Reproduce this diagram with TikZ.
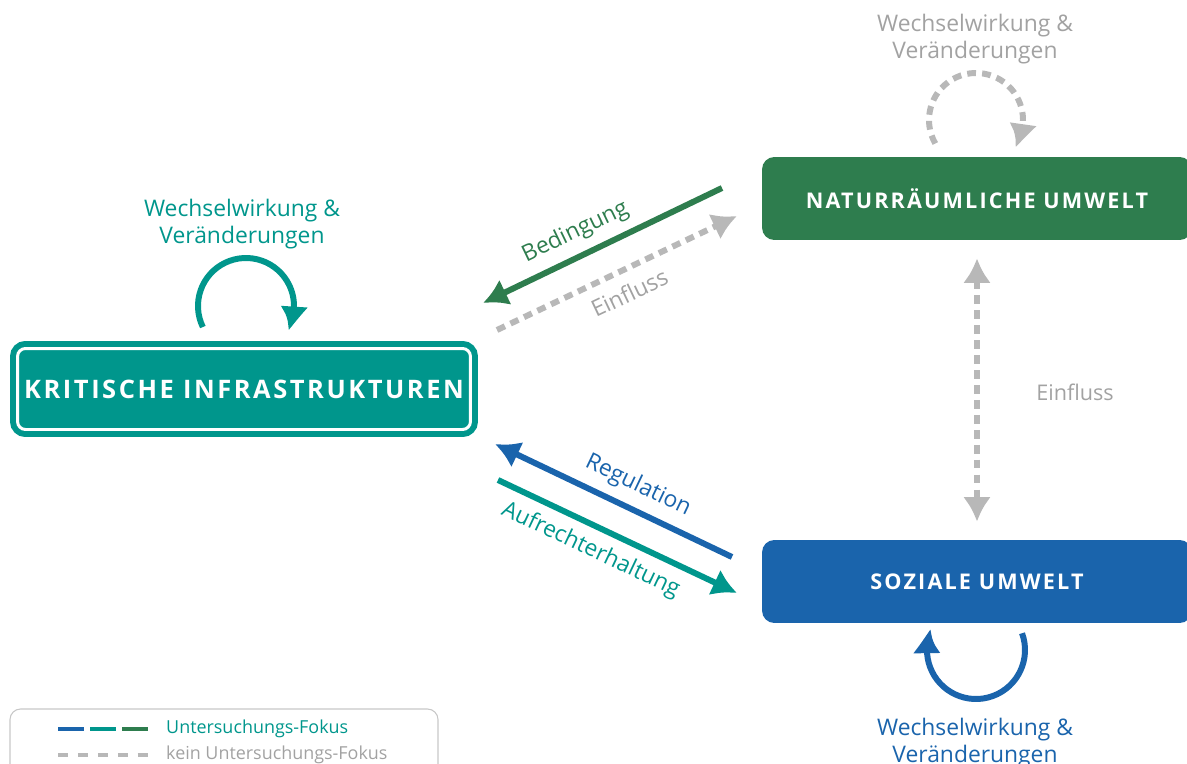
\documentclass[tikz,border=0pt]{standalone}
\usepackage{fontspec}
\setmainfont{Open Sans}
\usetikzlibrary{arrows.meta,bending}

\definecolor{kritis}{RGB}{0,150,140}
\definecolor{natur}{RGB}{46,125,78}
\definecolor{sozial}{RGB}{26,100,172}
\definecolor{keinfokus}{RGB}{184,184,184}
\definecolor{keintext}{RGB}{162,162,162}

\begin{document}
\begin{tikzpicture}[x=0.02cm, y=-0.02cm, >={Latex[length=14pt,width=16pt,bend]},
	every node/.style={font=\fontsize{13}{15.3}\selectfont},
	boxtext/.style={font=\fontsize{12.3}{14}\selectfont\bfseries\addfontfeature{LetterSpace=10}, text=white},
	fokus/.style={line width=3.4pt},
	kein/.style={line width=3.4pt, keinfokus, dash pattern=on 5pt off 3.5pt}]
	\useasboundingbox (0,0) rectangle (1187,764);
	\node[boxtext, font=\fontsize{14.5}{16}\selectfont\bfseries\addfontfeature{LetterSpace=10}, fill=kritis, draw=kritis, double=white, line width=3.4pt, double distance=1.7pt, rounded corners=4.5pt, minimum width=9.06cm, minimum height=1.62cm] (kritis) at (244,389) {KRITISCHE INFRASTRUKTUREN};
	\node[boxtext, fill=natur, rounded corners=7pt, minimum width=8.6cm, minimum height=1.66cm] (natur) at (977,198.5) {NATURRÄUMLICHE UMWELT};
	\node[boxtext, fill=sozial, rounded corners=7pt, minimum width=8.6cm, minimum height=1.66cm] (sozial) at (977,581.5) {SOZIALE UMWELT};

	\draw[fokus, kritis, ->] (246,306) ++(154:48) arc[start angle=154, end angle=390, radius=48];
	\node[kritis, align=center] (kritis-wv) at (242,224) {Wechselwirkung \&\\Veränderungen};
	\draw[kein, ->] (976,120) ++(150:47) arc[start angle=150, end angle=395, radius=47];
	\node[keintext, align=center] (natur-wv) at (975,39) {Wechselwirkung \&\\Veränderungen};
	\draw[fokus, sozial, ->] (976,650) ++(-20:49) arc[start angle=-20, end angle=205, radius=49];
	\node[sozial, align=center] (sozial-wv) at (975,743) {Wechselwirkung \&\\Veränderungen};

	\coordinate (bed-a) at (722,188);
	\coordinate (bed-b) at (483,303);
	\coordinate (ein-a) at (497,330);
	\coordinate (ein-b) at (737,216);
	\coordinate (reg-a) at (732,557);
	\coordinate (reg-b) at (495,444);
	\coordinate (auf-a) at (498,480);
	\coordinate (auf-b) at (737,593);
	\draw[fokus, natur, ->] (bed-a) -- (bed-b) node[pos=0.57, sloped, above=2pt] (bed) {Bedingung};
	\draw[kein, ->] (ein-a) -- (ein-b) node[pos=0.51, sloped, below=3pt, keintext] (ein) {Einfluss};
	\draw[fokus, sozial, ->] (reg-a) -- (reg-b) node[pos=0.44, sloped, above=2pt] (reg) {Regulation};
	\draw[fokus, kritis, ->] (auf-a) -- (auf-b) node[pos=0.43, sloped, below=2pt] (auf) {Aufrechterhaltung};
	\draw[kein, <->, shorten <=0.36cm, shorten >=0.36cm] (natur.south) -- (sozial.north);
	\node[keintext, font=\fontsize{12.3}{15}\selectfont] (ein-nat) at (1075,392) {Einfluss};

	\draw[line width=0.6pt, black!22, rounded corners=6pt] (10,709) rectangle (438,800);
	\draw[line width=2.8pt, sozial] (58,729) -- (84,729);
	\draw[line width=2.8pt, kritis] (90,729) -- (116,729);
	\draw[line width=2.8pt, natur] (122,729) -- (148,729);
	\draw[line width=2.8pt, keinfokus, dash pattern=on 5.67pt off 5.67pt] (58,755) -- (150,755);
	\node[kritis, anchor=west, font=\fontsize{10.2}{12}\selectfont] (leg-fokus) at (160,729) {Untersuchungs-Fokus};
	\node[keintext, anchor=west, font=\fontsize{10.2}{12}\selectfont] (leg-kein) at (160,755) {kein Untersuchungs-Fokus};
\end{tikzpicture}
\end{document}
